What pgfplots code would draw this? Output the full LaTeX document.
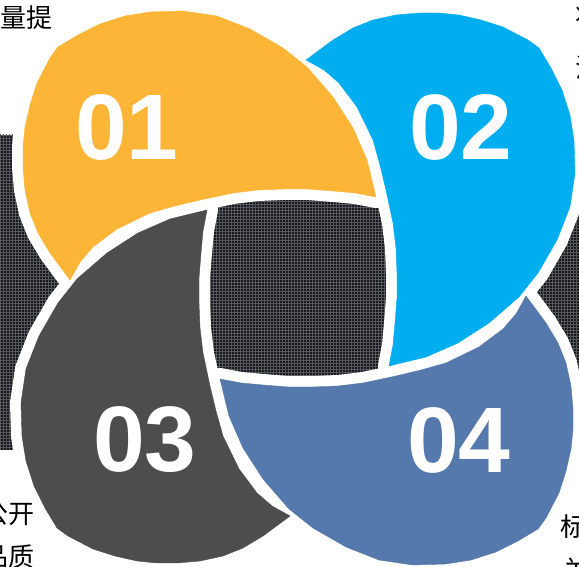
\documentclass[border=0pt]{standalone}
\usepackage{pgfplots}
\pgfplotsset{compat=1.18}
\usepackage{pgfplotstable}
\usepackage{fontspec}
\setmainfont{Liberation Sans}
\newfontfamily\cjk{Noto Sans CJK SC}
\usetikzlibrary{patterns}

\definecolor{petalA}{HTML}{FDB538}
\definecolor{petalB}{HTML}{00AEEF}
\definecolor{petalC}{HTML}{4D4D4D}
\definecolor{petalD}{HTML}{5679AD}
\definecolor{bgdark}{HTML}{17181B}
\definecolor{bggrid}{HTML}{54575C}

% petal outlines, centred on the middle of the figure (1 unit = 1px)
\pgfplotstableread{
x y
-228 8
-248 35
-260 55
-268 75
-273 98
-275 121
-275 141
-273 161
-268 183
-261 205
-248 230
-240 241
-220 253
-198 264
-173 272
-148 276
-115 277
-81 272
-48 259
-15 240
9 221
35 191
55 160
69 128
78 91
57 95
35 97
10 99
-15 99
-40 98
-65 95
-98 88
-123 82
-148 75
-181 59
-205 41
-218 26
}\petalOne

\pgfplotstableread{
x y
8 228
35 248
55 260
75 268
98 273
121 275
141 275
161 273
183 268
205 261
230 248
241 240
253 220
264 198
272 173
276 148
277 115
272 81
259 48
240 15
221 -9
191 -35
160 -55
128 -69
91 -78
95 -57
97 -35
99 -10
99 15
98 40
95 65
88 98
82 123
75 148
59 181
41 205
26 218
}\petalTwo

\pgfplotstableread{
x y
-8 -228
-35 -248
-55 -260
-75 -268
-98 -273
-121 -275
-141 -275
-161 -273
-183 -268
-205 -261
-230 -248
-241 -240
-253 -220
-264 -198
-272 -173
-276 -148
-277 -115
-272 -81
-259 -48
-240 -15
-221 9
-191 35
-160 55
-128 69
-91 78
-95 57
-97 35
-99 10
-99 -15
-98 -40
-95 -65
-88 -98
-82 -123
-75 -148
-59 -181
-41 -205
-26 -218
}\petalThree

\pgfplotstableread{
x y
228 -8
248 -35
260 -55
268 -75
273 -98
275 -121
275 -141
273 -161
268 -183
261 -205
248 -230
240 -241
220 -253
198 -264
173 -272
148 -276
115 -277
81 -272
48 -259
15 -240
-9 -221
-35 -191
-55 -160
-69 -128
-78 -91
-57 -95
-35 -97
-10 -99
15 -99
40 -98
65 -95
98 -88
123 -82
148 -75
181 -59
205 -41
218 -26
}\petalFour

\begin{document}
\begin{tikzpicture}
\useasboundingbox (0,0) rectangle (579pt,567pt);
\begin{axis}[
    at={(0,0)}, anchor=south west,
    scale only axis, width=579pt, height=567pt,
    xmin=-298, xmax=281, ymin=-279, ymax=288,
    hide axis, clip=true,
]
% textured dark band behind the petals
\addplot[fill=bgdark, draw=none] coordinates {(-310,153) (290,153) (290,-162) (-310,-162)} -- cycle;
\addplot[pattern=grid, pattern color=bggrid, draw=none] coordinates {(-310,153) (290,153) (290,-162) (-310,-162)} -- cycle;

% white rims first
\addplot[fill=white, draw=white, line width=22pt, line join=round] table {\petalOne} -- cycle;
\addplot[fill=white, draw=white, line width=22pt, line join=round] table {\petalTwo} -- cycle;
\addplot[fill=white, draw=white, line width=22pt, line join=round] table {\petalThree} -- cycle;
\addplot[fill=white, draw=white, line width=22pt, line join=round] table {\petalFour} -- cycle;

% coloured petals
\addplot[fill=petalA, draw=petalA, line width=0.4pt] table {\petalOne} -- cycle;
\addplot[fill=petalB, draw=petalB, line width=0.4pt] table {\petalTwo} -- cycle;
\addplot[fill=petalC, draw=petalC, line width=0.4pt] table {\petalThree} -- cycle;
\addplot[fill=petalD, draw=petalD, line width=0.4pt] table {\petalFour} -- cycle;

% numbers
\node[text=white, inner sep=0, font=\fontsize{93}{93}\selectfont\bfseries] at (axis cs:-171,161) {01};
\node[text=white, inner sep=0, font=\fontsize{93}{93}\selectfont\bfseries] at (axis cs:163,161) {02};
\node[text=white, inner sep=0, font=\fontsize{93}{93}\selectfont\bfseries] at (axis cs:-153,-152) {03};
\node[text=white, inner sep=0, font=\fontsize{93}{93}\selectfont\bfseries] at (axis cs:161,-152) {04};

% surrounding text, cut by the picture's edge as in the original
\node[anchor=east, inner sep=0, font=\cjk\fontsize{26}{26}\selectfont] at (axis cs:-245,270) {能量提};
\node[anchor=west, inner sep=0, font=\cjk\fontsize{26}{26}\selectfont] at (axis cs:277,272) {将};
\node[anchor=west, inner sep=0, font=\cjk\fontsize{26}{26}\selectfont] at (axis cs:277,221) {注};
\node[anchor=east, inner sep=0, font=\cjk\fontsize{26}{26}\selectfont] at (axis cs:-263,-226) {公开};
\node[anchor=east, inner sep=0, font=\cjk\fontsize{26}{26}\selectfont] at (axis cs:-263,-269) {品质};
\node[anchor=west, inner sep=0, font=\cjk\fontsize{26}{26}\selectfont] at (axis cs:262,-239) {标};
\node[anchor=west, inner sep=0, font=\cjk\fontsize{26}{26}\selectfont] at (axis cs:265,-282) {关};
\end{axis}
\end{tikzpicture}
\end{document}
